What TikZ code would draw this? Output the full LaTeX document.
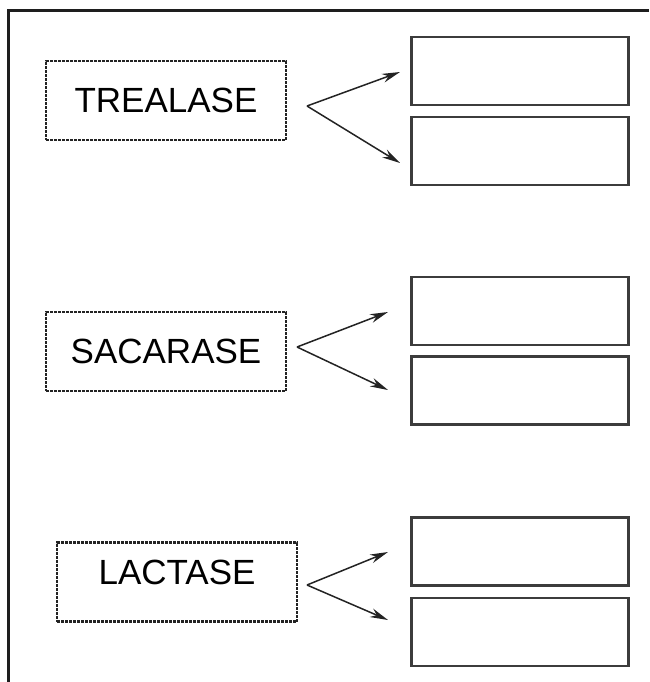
\documentclass[tikz,border=0pt]{standalone}
\usepackage{fontspec}
\setmainfont{Liberation Sans}
\usetikzlibrary{
    arrows.meta,
    positioning
}
\definecolor{ink}{RGB}{35,35,35}
\definecolor{frameink}{RGB}{30,30,30}
\definecolor{boxink}{RGB}{60,60,60}
\tikzset{
    enzyme/.style={
        rectangle,
        draw=ink,
        line width=2.2pt,
        dash pattern=on 3pt off 1pt,
        minimum width=240pt,
        minimum height=79pt,
        inner sep=0pt,
        font=\fontsize{35}{40}\selectfont,
        text=black
    },
    product/.style={
        rectangle,
        draw=boxink,
        line width=2.3pt,
        minimum width=217pt,
        minimum height=68pt,
        inner sep=0pt
    },
    split/.style={
        -{Stealth[length=18pt, width=9pt]},
        draw=ink,
        line width=1.5pt
    },
    outerframe/.style={
        draw=frameink,
        line width=3pt
    }
}

\begin{document}
\begin{tikzpicture}[x=1pt, y=-1pt]

    \useasboundingbox (0,0) rectangle (649,682);

    % Outer frame (cut at right and bottom)
    \draw[outerframe] (8,682) -- (8,11) -- (649,11);

    % Enzymes
    \node[enzyme] (trealase) at (166,100.5) {TREALASE};
    \node[enzyme] (sacarase) at (166,351.5) {SACARASE};
    \node[enzyme, text depth=20pt] (lactase) at (177,582) {LACTASE};

    % Empty answer boxes
    \node[product] (trealaseA) at (520,71) {};
    \node[product] (trealaseB) at (520,151) {};
    \node[product] (sacaraseA) at (520,311) {};
    \node[product] (sacaraseB) at (520,390.5) {};
    \node[product] (lactaseA) at (520,551.5) {};
    \node[product] (lactaseB) at (520,632) {};

    % Fork points and arrow tips
    \coordinate (forkT) at (307,106);
    \coordinate (tipTA) at (400,72);
    \coordinate (tipTB) at (400,163);
    \coordinate (forkS) at (297,347);
    \coordinate (tipSA) at (388,312);
    \coordinate (tipSB) at (388,390);
    \coordinate (forkL) at (307,585);
    \coordinate (tipLA) at (388,552);
    \coordinate (tipLB) at (388,620);

    % Splitting arrows
    \draw[split] (forkT) -- (tipTA);
    \draw[split] (forkT) -- (tipTB);
    \draw[split] (forkS) -- (tipSA);
    \draw[split] (forkS) -- (tipSB);
    \draw[split] (forkL) -- (tipLA);
    \draw[split] (forkL) -- (tipLB);

\end{tikzpicture}
\end{document}
